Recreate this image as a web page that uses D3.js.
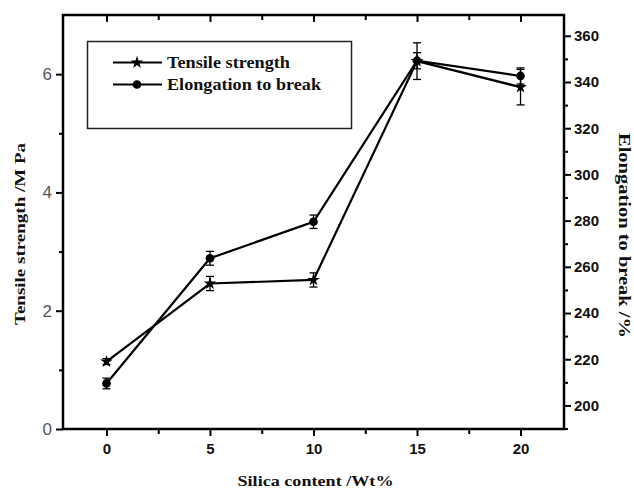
<!DOCTYPE html>
<html><head><meta charset="utf-8">
<script src="https://cdn.jsdelivr.net/npm/d3@7/dist/d3.min.js"></script>
<style>body{margin:0;background:#fff}svg{display:block}</style>
</head><body>
<svg id="c" width="634" height="491"></svg>
<script>
const silica = [0, 5, 10, 15, 20];
const tensile = [1.14, 2.46, 2.52, 6.22, 5.78];
const tensileErr = [0.05, 0.12, 0.12, 0.31, 0.30];
const elongation = [209.5, 263.7, 279.5, 349.2, 342.6];
const elongationErr = [2.3, 3.0, 2.9, 3.5, 3.5];
const xTicks = [0, 5, 10, 15, 20];
const leftTicks = [0, 2, 4, 6];
const rightTicks = [200, 220, 240, 260, 280, 300, 320, 340, 360];
const legendLabels = ["Tensile strength", "Elongation to break"];

const svg = d3.select("#c");
const L = 63, R = 564, T = 15, B = 429;
const x = d3.scaleLinear().domain([-2.1, 22.1]).range([L, R]);
const yL = d3.scaleLinear().domain([0, 7]).range([B, T]);
const yR = d3.scaleLinear().domain([189.8, 369]).range([B, T]);

const sans = "Liberation Sans, Arial, sans-serif";
const serif = "Liberation Serif, Times New Roman, serif";

function styleAxis(g) {
  g.select(".domain").remove();
  g.selectAll(".tick line").attr("stroke", "#000").attr("stroke-width", 2);
}
// bottom
const gB = svg.append("g").attr("transform", `translate(0,${B})`)
  .call(d3.axisBottom(x).tickValues(xTicks).tickSize(7).tickPadding(7).tickFormat(d3.format("d")));
styleAxis(gB);
gB.selectAll("text").attr("font-family", sans).attr("font-weight", "bold").attr("font-size", 15).attr("fill", "#111");
svg.append("g").attr("transform", `translate(0,${B})`)
  .call(d3.axisBottom(x).tickValues([2.5, 7.5, 12.5, 17.5]).tickSize(5).tickFormat(""))
  .call(g => styleAxis(g));
// top (inward)
svg.append("g").attr("transform", `translate(0,${T})`)
  .call(d3.axisBottom(x).tickValues(xTicks).tickSize(7).tickFormat(""))
  .call(g => styleAxis(g));
svg.append("g").attr("transform", `translate(0,${T})`)
  .call(d3.axisBottom(x).tickValues([2.5, 7.5, 12.5, 17.5]).tickSize(5).tickFormat(""))
  .call(g => styleAxis(g));
// left
const gL = svg.append("g").attr("transform", `translate(${L},0)`)
  .call(d3.axisLeft(yL).tickValues(leftTicks).tickSize(7).tickPadding(4).tickFormat(d3.format("d")));
styleAxis(gL);
gL.selectAll("text").attr("font-family", sans).attr("font-size", 17).attr("fill", "#555");
svg.append("g").attr("transform", `translate(${L},0)`)
  .call(d3.axisLeft(yL).tickValues([1, 3, 5]).tickSize(4).tickFormat(""))
  .call(g => styleAxis(g));
// right
const gR = svg.append("g").attr("transform", `translate(${R},0)`)
  .call(d3.axisRight(yR).tickValues(rightTicks).tickSize(7).tickPadding(3).tickFormat(d3.format("d")));
styleAxis(gR);
gR.selectAll("text").attr("font-family", sans).attr("font-weight", "bold").attr("font-size", 15).attr("fill", "#111");
svg.append("g").attr("transform", `translate(${R},0)`)
  .call(d3.axisRight(yR).tickValues([190, 210, 230, 250, 270, 290, 310, 330, 350]).tickSize(4).tickFormat(""))
  .call(g => styleAxis(g));

// frame
svg.append("rect").attr("x", L).attr("y", T).attr("width", R - L).attr("height", B - T)
  .attr("fill", "none").attr("stroke", "#000").attr("stroke-width", 2.5);

// series
function drawSeries(vals, errs, yS, sym, size) {
  const pts = silica.map((s, i) => ({ s, v: vals[i], e: errs[i] }));
  svg.append("path").datum(pts)
    .attr("d", d3.line().x(d => x(d.s)).y(d => yS(d.v)))
    .attr("fill", "none").attr("stroke", "#000").attr("stroke-width", 2.2);
  const eg = svg.append("g").attr("stroke", "#000").attr("stroke-width", 1.3);
  pts.forEach(d => {
    const cx = x(d.s), y1 = yS(d.v + d.e), y2 = yS(d.v - d.e);
    eg.append("line").attr("x1", cx).attr("x2", cx).attr("y1", y1).attr("y2", y2);
    eg.append("line").attr("x1", cx - 4).attr("x2", cx + 4).attr("y1", y1).attr("y2", y1);
    eg.append("line").attr("x1", cx - 4).attr("x2", cx + 4).attr("y1", y2).attr("y2", y2);
  });
  svg.append("g").selectAll("path").data(pts).join("path")
    .attr("transform", d => `translate(${x(d.s)},${yS(d.v)})`)
    .attr("d", d3.symbol().type(sym).size(size)).attr("fill", "#000");
}
drawSeries(tensile, tensileErr, yL, d3.symbolStar, 50);
drawSeries(elongation, elongationErr, yR, d3.symbolCircle, 60);

// legend
svg.append("rect").attr("x", 87.5).attr("y", 41.5).attr("width", 264).attr("height", 87)
  .attr("fill", "#fff").attr("stroke", "#222").attr("stroke-width", 1.5);
const legY = [62.5, 84.5];
const legSyms = [d3.symbolStar, d3.symbolCircle];
const legWidths = [123, 154];
legendLabels.forEach((lab, i) => {
  svg.append("line").attr("x1", 113).attr("x2", 162).attr("y1", legY[i]).attr("y2", legY[i])
    .attr("stroke", "#000").attr("stroke-width", 2.2);
  svg.append("path").attr("transform", `translate(137,${legY[i]})`)
    .attr("d", d3.symbol().type(legSyms[i]).size(i === 0 ? 50 : 60)).attr("fill", "#000");
  svg.append("text").attr("x", 167).attr("y", legY[i] + 5.5).text(lab)
    .attr("font-family", serif).attr("font-weight", "bold").attr("font-size", 17)
    .attr("textLength", legWidths[i]).attr("lengthAdjust", "spacingAndGlyphs").attr("fill", "#111");
});

// axis titles
svg.append("text").attr("x", 315.5).attr("y", 486).attr("text-anchor", "middle")
  .text("Silica content /Wt%").attr("font-family", serif).attr("font-weight", "bold")
  .attr("font-size", 15).attr("textLength", 156).attr("lengthAdjust", "spacingAndGlyphs").attr("fill", "#111");
svg.append("text").attr("transform", "translate(25,234) rotate(-90)").attr("text-anchor", "middle")
  .text("Tensile strength /M Pa").attr("font-family", serif).attr("font-weight", "bold")
  .attr("font-size", 15).attr("textLength", 182).attr("lengthAdjust", "spacingAndGlyphs").attr("fill", "#111");
svg.append("text").attr("transform", "translate(619,235.5) rotate(90)").attr("text-anchor", "middle")
  .text("Elongation to break /%").attr("font-family", serif).attr("font-weight", "bold")
  .attr("font-size", 17).attr("textLength", 205).attr("lengthAdjust", "spacingAndGlyphs").attr("fill", "#111");
</script>
</body></html>
